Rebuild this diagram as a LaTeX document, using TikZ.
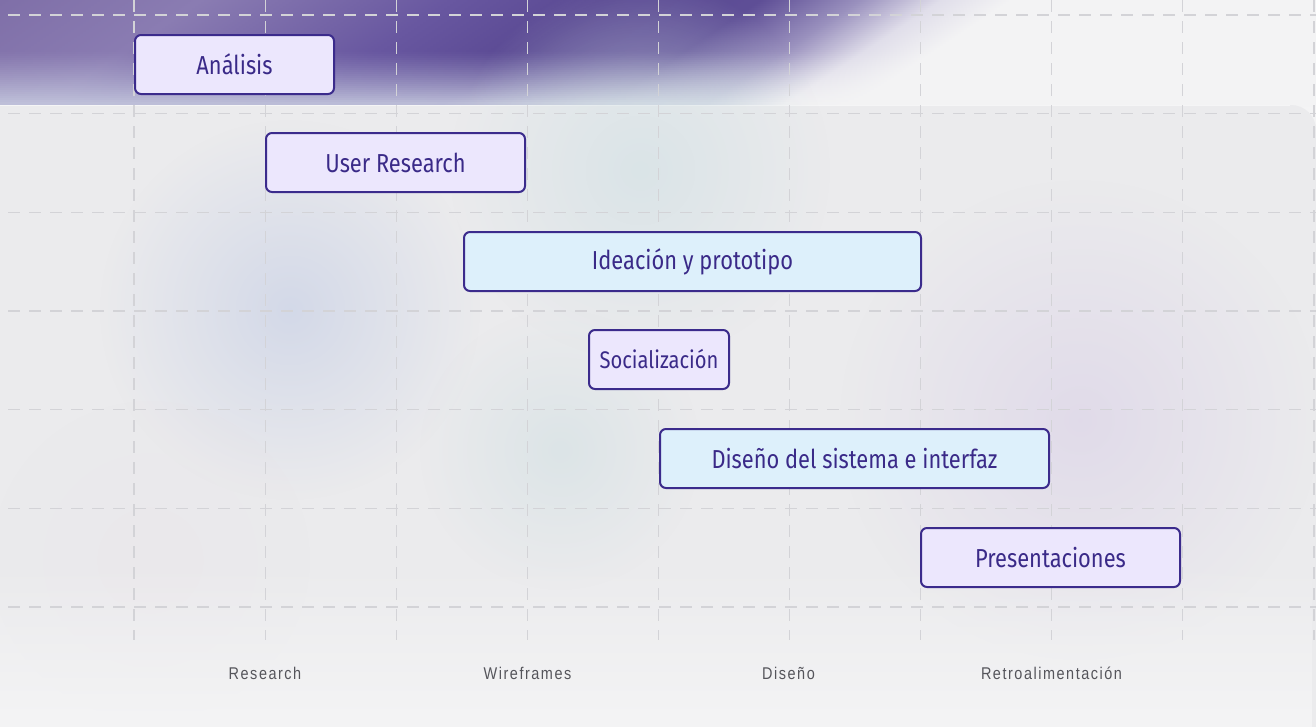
\documentclass[tikz,border=0pt]{standalone}
\usepackage{fontspec}
\setmainfont{Fira Sans}[FakeStretch=0.84]
\newfontfamily\labelfont[LetterSpace=9,FakeStretch=0.85]{Liberation Sans}
\usetikzlibrary{fadings}
\tikzfading[name=blobfade, inner color=transparent!0, outer color=transparent!100]
\tikzfading[name=bottomsolid, top color=transparent!100, bottom color=transparent!0]
\definecolor{bg}{HTML}{F4F4F5}
\definecolor{panel}{HTML}{EBEBED}
\definecolor{gridc}{HTML}{D3D3D7}
\definecolor{border}{HTML}{3B2B8C}
\definecolor{lav}{HTML}{ECE7FD}
\definecolor{sky}{HTML}{DDF0FB}
\definecolor{txt}{HTML}{3A2A88}
\definecolor{lbl}{HTML}{55555B}
\definecolor{blobA}{HTML}{C9D1E6}
\definecolor{blobB}{HTML}{D3E1E5}
\definecolor{blobC}{HTML}{D2E0E3}
\definecolor{blobD}{HTML}{DCD4E8}
\definecolor{blobE}{HTML}{E9E1E8}
% top colours of band
\definecolor{ta}{HTML}{7F6FA8}
\definecolor{tb}{HTML}{8A7CB2}
\definecolor{tc}{HTML}{6857A0}
\definecolor{td}{HTML}{5A4993}
\definecolor{te}{HTML}{5E4E96}
\definecolor{tf}{HTML}{9A91BE}
\definecolor{tg}{HTML}{E0DEEA}
\definecolor{th}{HTML}{F3F3F4}
\definecolor{bb}{HTML}{C4C7DD}
\definecolor{bc}{HTML}{D6DDE6}
\colorlet{ca}{ta}\colorlet{cb}{tb}\colorlet{cc}{tc}\colorlet{cd}{td}
\colorlet{ce}{te}\colorlet{cf}{tf}\colorlet{cg}{tg}\colorlet{ch}{th}
\pgfdeclarehorizontalshading[ca,cb,cc,cd,ce,cf,cg,ch]{band}{100bp}{%
color(0bp)=(ca); color(25bp)=(ca); color(30.83bp)=(cb); color(38.11bp)=(cc);
color(42.48bp)=(cd); color(47.14bp)=(ce); color(50.06bp)=(cf); color(52.39bp)=(cg);
color(54.43bp)=(ch); color(75bp)=(ch); color(100bp)=(ch)}
\tikzset{
  gridline/.style={gridc, line width=1.2pt, dash pattern=on 12pt off 9pt},
  phase/.style={draw=border, line width=2pt, rounded corners=6pt, minimum height=59pt,
    inner sep=0pt, text=txt, font=\fontsize{26}{29}\selectfont},
  lavbox/.style={phase, fill=lav},
  skybox/.style={phase, fill=sky},
  axislabel/.style={text=lbl, font=\labelfont\fontsize{17}{20}\selectfont, inner sep=0pt}
}
\begin{document}
\begin{tikzpicture}[x=1pt,y=-1pt]
\useasboundingbox (0,0) rectangle (1316,726);
\fill[bg] (0,0) rectangle (1316,726);
% top band
\begin{scope}
\clip (0,0) rectangle (1316,106);
\foreach \i in {0,...,53}{
  \pgfmathsetmacro\ya{\i*2}
  \pgfmathsetmacro\yb{\i*2+2.6}
  \pgfmathsetmacro\s{1.5*\i*2}
  \pgfmathsetmacro\t{90*(min(1,max(0,(\ya-50)/52)))^1.2}
  \colorlet{ca}{bb!\t!ta}\colorlet{cb}{bb!\t!tb}\colorlet{cc}{bb!\t!tc}
  \colorlet{cd}{bb!\t!td}\colorlet{ce}{bc!\t!te}\colorlet{cf}{bc!\t!tf}
  \colorlet{cg}{th!\t!tg}\colorlet{ch}{th}
  \shade[shading=band] (-\s,\ya) rectangle (1716-\s,\yb);
}
\end{scope}
% panel
\fill[panel, rounded corners=25pt] (-40,105) rectangle (1316,820);
\draw[white, opacity=0.5, line width=1pt] (0,105.5) -- (1290,105.5);
% soft blobs
\fill[blobA, opacity=0.7, path fading=blobfade] (290,310) circle (190);
\fill[blobB, opacity=0.7, path fading=blobfade] (640,170) circle (190);
\fill[blobC, opacity=0.6, path fading=blobfade] (560,450) circle (140);
\fill[blobD, opacity=0.7, path fading=blobfade] (1080,420) circle (240);
\fill[blobE, opacity=0.3, path fading=blobfade] (150,560) circle (160);
% bottom fade
\fill[bg, path fading=bottomsolid] (0,560) rectangle (1316,727);
% grid
\foreach \k in {0,...,6}{
  \draw[gridline] (8,15+98.67*\k) -- (1316,15+98.67*\k);
}
\foreach \k in {0,...,9}{
  \draw[gridline] (134+131.1*\k,0) -- (134+131.1*\k,640);
}
% phases
\node[lavbox, minimum width=199pt] (a1) at (234.5,64.5) {Análisis};
\node[lavbox, minimum width=259pt] (a2) at (395.5,162.5) {User Research};
\node[skybox, minimum width=457pt] (a3) at (692.5,261.5) {Ideación y prototipo};
\node[lavbox, minimum width=140pt, font=\fontsize{24}{27}\selectfont] (a4) at (659,359.5) {Socialización};
\node[skybox, minimum width=389pt] (a5) at (854.5,458.5) {Diseño del sistema e interfaz};
\node[lavbox, minimum width=259pt] (a6) at (1050.5,557.5) {Presentaciones};
% axis labels
\node[axislabel] (l1) at (265,673) {Research};
\node[axislabel] (l2) at (527.5,673) {Wireframes};
\node[axislabel] (l3) at (788.5,673) {Diseño};
\node[axislabel] (l4) at (1051.5,673) {Retroalimentación};
\end{tikzpicture}
\end{document}
